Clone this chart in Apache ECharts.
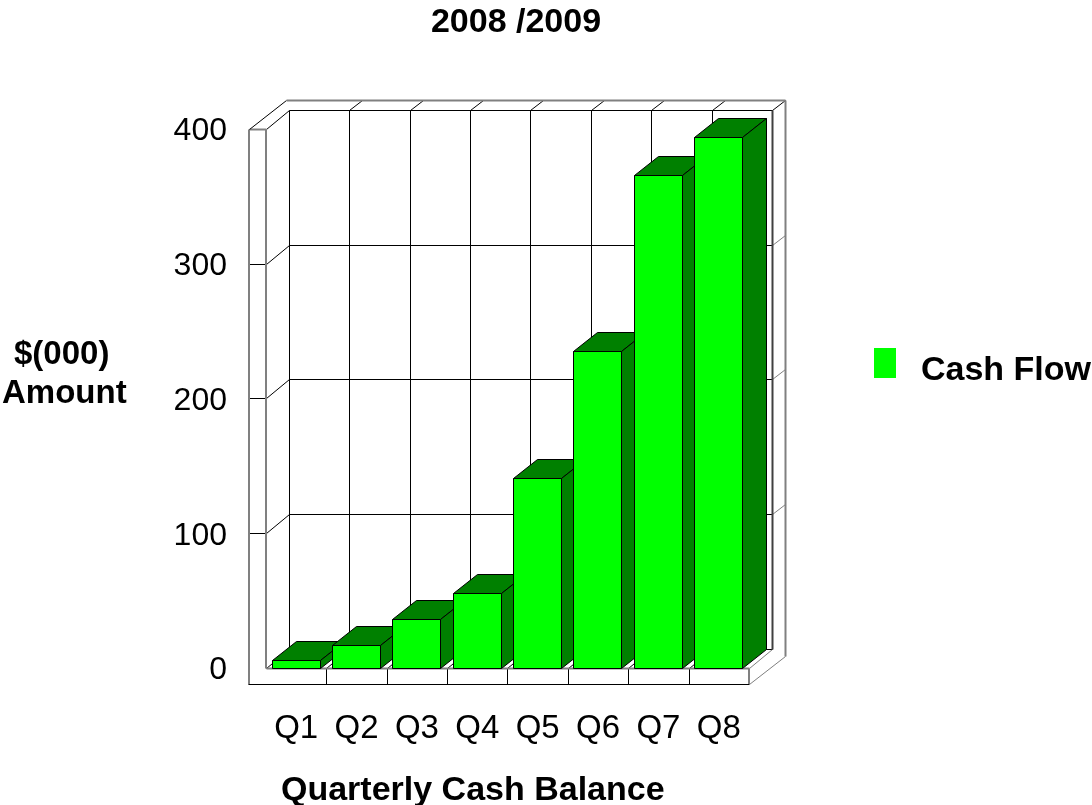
<!DOCTYPE html>
<html>
<head>
<meta charset="utf-8">
<style>html,body{margin:0;padding:0;background:#fff}#chart{width:1092px;height:805px}</style>
<script src="https://cdn.jsdelivr.net/npm/echarts@6/dist/echarts.min.js"></script>
</head>
<body>
<div id="chart"></div>
<script>
// Quarterly cash balance, drawn as a 3D-look column chart.
const quarters = ['Q1', 'Q2', 'Q3', 'Q4', 'Q5', 'Q6', 'Q7', 'Q8'];
const cashFlow = [6, 17, 36, 56, 141, 235, 366, 394];
const yTicks = [0, 100, 200, 300, 400];

const FONT = '"Liberation Sans", Arial, sans-serif';
// Projection of the depth axis for walls and columns, plus the outer frame's lip.
const DX = 23, DY = -19;
const BAR_DX = 24;
const LIP = 17;
const RIM_X = 13, RIM_Y = -10;
const FACE = '#00ff00', SHADE = '#008000', INK = '#000000', EDGE = '#808080';

const chart = echarts.init(document.getElementById('chart'), null, { renderer: 'canvas' });

function seg(x1, y1, x2, y2, color, width) {
  return { type: 'line', silent: true,
    shape: { x1, y1, x2, y2 },
    style: { stroke: color || INK, lineWidth: width || 1 } };
}
function poly(points, fill) {
  return { type: 'polygon', silent: true,
    shape: { points },
    style: { fill, stroke: INK, lineWidth: 1 } };
}
const snap = v => Math.floor(v + 0.4) + 0.5;

// Back wall, floor, side wall and the frame lines round them.
function renderFrame(params, api) {
  const kids = [];
  const band = api.size([1, 0])[0];
  const rawLeft = api.coord([0, 0])[0] - band / 2;
  const colX = i => snap(rawLeft + band * i);
  const x0 = colX(0), xN = colX(quarters.length);
  const bottom = snap(api.coord([0, 0])[1]);
  const top = snap(api.coord([0, 400])[1]);
  const outerL = x0 - LIP, outerB = bottom + 16;
  const backTop = top + DY + RIM_Y;
  const rimR = xN + DX + RIM_X;

  // gridlines on the back wall and their steps over the side wall
  yTicks.forEach(t => {
    const y = snap(api.coord([0, t])[1]);
    kids.push(seg(x0 + DX, y + DY, xN + DX, y + DY, INK));
    kids.push(seg(x0, y, x0 + DX, y + DY, INK));
    if (t > 0 && t < 400) {
      kids.push(seg(outerL, y, x0, y, INK));
      kids.push(seg(xN + DX, y + DY, rimR, y + DY + RIM_Y, EDGE));
    }
  });
  // column dividers on back wall and floor
  for (let i = 0; i <= quarters.length; i++) {
    const x = colX(i);
    kids.push(seg(x + DX, top + DY, x + DX, bottom + DY, INK));
    if (i > 0) {
      kids.push(seg(x, bottom, x + DX, bottom + DY, i === quarters.length ? EDGE : INK));
      if (i < quarters.length) kids.push(seg(x, bottom, x, outerB, INK));
      kids.push(seg(x + DX, top + DY, x + DX + RIM_X, backTop, INK));
    }
  }
  // outer frame: heavier grey edges, black along the front foot
  kids.push(seg(outerL, top, x0, top, EDGE, 2));
  kids.push(seg(x0 - 0.5, top, x0 - 0.5, bottom, EDGE, 2));
  kids.push(seg(outerL - 0.5, top, outerL - 0.5, outerB, EDGE, 2));
  kids.push(seg(x0, bottom, xN, bottom, EDGE, 2));
  kids.push(seg(xN - 0.5, bottom, xN - 0.5, outerB, EDGE, 2));
  kids.push(seg(outerL - 1, outerB, xN, outerB, INK));
  kids.push(seg(outerL, top, outerL + 37, backTop, INK));
  kids.push(seg(outerL + 37, backTop, rimR, backTop, EDGE, 2));
  kids.push(seg(rimR, backTop, rimR, outerB - 28, EDGE, 2));
  kids.push(seg(rimR, outerB - 28, xN, outerB, EDGE));
  kids.push(seg(xN + DX, top + DY, xN + DX, bottom + DY, '#404040', 2));
  return { type: 'group', children: kids };
}

// One extruded column: front face, darker top and right side.
function renderColumn(params, api) {
  const i = api.value(0), v = api.value(1);
  const [cx, yTop] = api.coord([i, v]);
  const yBase = api.coord([i, 0])[1];
  const w = api.size([1, 0])[0] * 0.8;
  const l = Math.floor(cx - w / 2) + 0.5, r = l + 48;
  const t = Math.round(yTop) + 0.5, b = Math.round(yBase) + 0.5;
  return { type: 'group', children: [
    poly([[l, t], [r, t], [r + BAR_DX, t + DY], [l + BAR_DX, t + DY]], SHADE),
    poly([[r, t], [r + BAR_DX, t + DY], [r + BAR_DX, b + DY], [r, b]], SHADE),
    poly([[l, t], [r, t], [r, b], [l, b]], FACE)
  ] };
}

chart.setOption({
  animation: false,
  backgroundColor: '#ffffff',
  grid: { left: 266, top: 129, width: 483, height: 539, containLabel: false },
  title: {
    text: '2008 /2009', left: 511, top: 1, textAlign: 'center',
    textStyle: { fontFamily: FONT, fontSize: 34, fontWeight: 'bold', color: INK }
  },
  legend: {
    data: ['Cash Flow'], left: 874, top: 348, itemWidth: 22, itemHeight: 30, itemGap: 0,
    icon: 'rect', selectedMode: false,
    formatter: '{t|{name}}',
    textStyle: {
      padding: [0, 0, 0, 20],
      rich: { t: { fontFamily: FONT, fontSize: 34, fontWeight: 'bold', color: INK, padding: [16, 0, 0, 0] } }
    },
    padding: 0
  },
  xAxis: {
    type: 'category', data: quarters,
    axisLine: { show: false }, axisTick: { show: false }, splitLine: { show: false },
    axisLabel: { fontFamily: FONT, fontSize: 33, color: INK, margin: 44 }
  },
  yAxis: {
    type: 'value', min: 0, max: 400, interval: 100,
    axisLine: { show: false }, axisTick: { show: false }, splitLine: { show: false },
    axisLabel: {
      margin: 39,
      formatter: '{v|{value}}',
      rich: { v: { fontFamily: FONT, fontSize: 32, color: INK, padding: [5, 0, 0, 0] } }
    }
  },
  graphic: [
    { type: 'text', left: 14, top: 338,
      style: { text: '$(000)', fontFamily: FONT, fontSize: 33, fontWeight: 'bold', fill: INK } },
    { type: 'text', left: 2, top: 377,
      style: { text: 'Amount', fontFamily: FONT, fontSize: 33, fontWeight: 'bold', fill: INK } },
    { type: 'text', left: 281, top: 774,
      style: { text: 'Quarterly Cash Balance', fontFamily: FONT, fontSize: 34, fontWeight: 'bold', fill: INK } }
  ],
  series: [
    { type: 'custom', name: 'frame', renderItem: renderFrame, data: [[0, 0]], silent: true, clip: false, z: 1 },
    { type: 'custom', name: 'Cash Flow', renderItem: renderColumn,
      itemStyle: { color: FACE }, clip: false, z: 2,
      encode: { x: 0, y: 1 },
      data: cashFlow.map((v, i) => [i, v]) }
  ]
});
</script>
</body>
</html>
